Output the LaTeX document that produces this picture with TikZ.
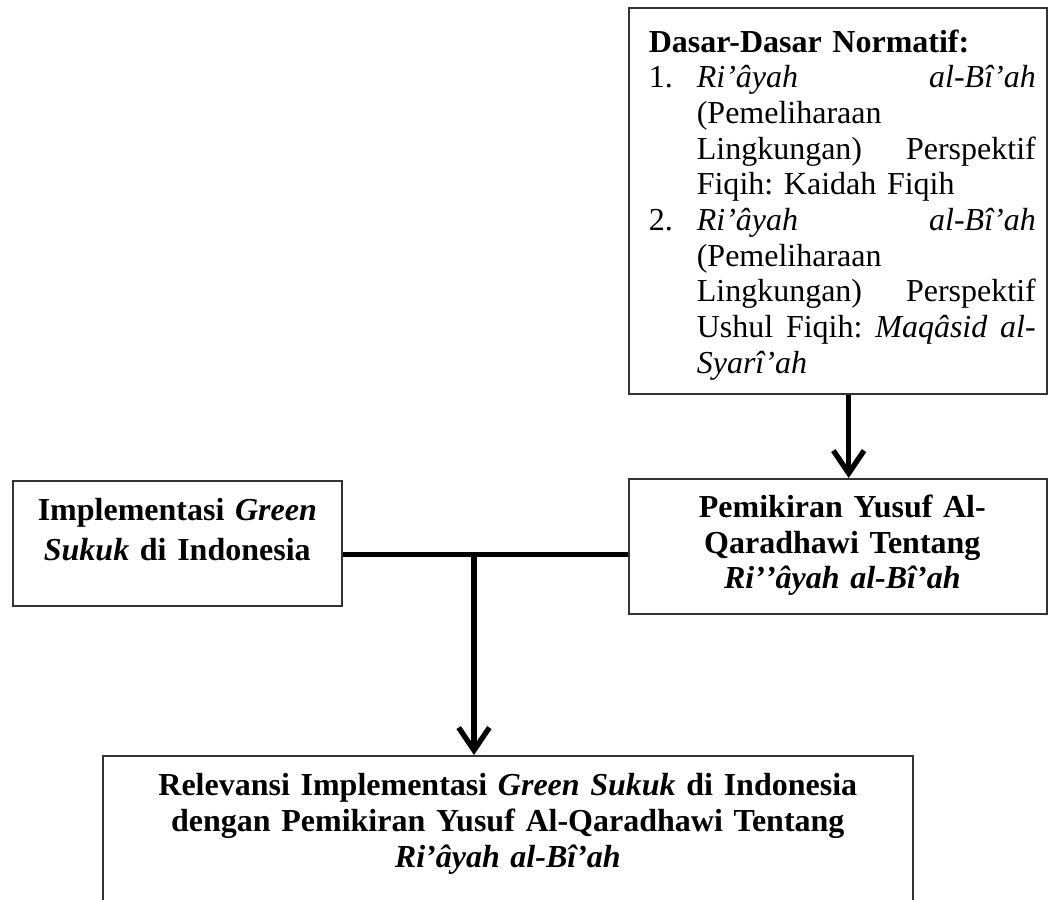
\documentclass[tikz,border=0pt]{standalone}
\usepackage{fontspec}
\setmainfont{Liberation Serif}
\usetikzlibrary{arrows.meta}
\frenchspacing
\begin{document}
\begin{tikzpicture}[x=0.375pt,y=-0.375pt,
  box/.style={draw=black!80,line width=0.6pt,inner sep=0pt,anchor=north west,fill=white},
  conn/.style={line width=2pt,black},
  arr/.style={-{Straight Barb[length=8.5pt,width=11.5pt,line width=2pt]}}]
\useasboundingbox (0,0) rectangle (1048,899);
\clip (0,0) rectangle (1048,899);
% top box
\node[box,text width=156.75pt,text height=16.6pt,text depth=128.15pt,align=left,
  font=\fontsize{12pt}{13.375pt}\selectfont\frenchspacing] (tb) at (628,7) {%
  \leftskip=7.5pt \rightskip=4.125pt plus 1fil \parfillskip=0pt plus 1fil
  \textbf{Dasar-Dasar Normatif:}\par
  \makebox[18pt][l]{1.}\textit{Ri’âyah}\hfill\textit{al-Bî’ah}\par
  \hspace*{18pt}(Pemeliharaan\par
  \hspace*{18pt}Lingkungan)\hfill Perspektif\par
  \hspace*{18pt}Fiqih: Kaidah Fiqih\par
  \makebox[18pt][l]{2.}\textit{Ri’âyah}\hfill\textit{al-Bî’ah}\par
  \hspace*{18pt}(Pemeliharaan\par
  \hspace*{18pt}Lingkungan)\hfill Perspektif\par
  \hspace*{18pt}Ushul\hfill Fiqih:\hfill\textit{Maqâsid}\hfill\textit{al-}\par
  \hspace*{18pt}\textit{Syarî’ah}\par};
% middle right box
\node[box,text width=156.75pt,text height=14.6pt,text depth=36.025pt,align=center,
  font=\fontsize{12pt}{13.35pt}\selectfont\bfseries] (mb) at (628,478) {%
  \leftskip=3.4pt plus 1fil \rightskip=0pt plus 1fil \parfillskip=0pt
  Pemikiran Yusuf Al-\par
  Qaradhawi Tentang\par
  \textit{Ri’\kern0pt’âyah al-Bî’ah}\par};
% left box
\node[box,text width=123.375pt,text height=15pt,text depth=31.875pt,align=center,
  font=\fontsize{12pt}{14.8pt}\selectfont\bfseries] (lb) at (12,480) {%
  \leftskip=0pt plus 1fil \rightskip=0pt plus 1fil \parfillskip=0pt
  Implementasi \textit{Green}\par
  \textit{Sukuk} di Indonesia\par};
% bottom box
\node[box,text width=303.75pt,text height=15pt,text depth=70pt,align=center,
  font=\fontsize{12pt}{13.5pt}\selectfont\bfseries] (bb) at (102,755) {%
  \leftskip=0pt plus 1fil \rightskip=0pt plus 1fil \parfillskip=0pt
  Relevansi Implementasi \textit{Green Sukuk} di Indonesia\par
  dengan Pemikiran Yusuf Al-Qaradhawi Tentang\par
  \textit{Ri’âyah al-Bî’ah}\par};
% connectors
\coordinate (j) at (474,554.5);
\coordinate (ta) at (848.7,0);
\draw[conn] (lb.east |- j) -- (mb.west |- j);
\draw[conn,arr] (j) -- (j |- bb.north);
\draw[conn,arr] (tb.south -| ta) -- (mb.north -| ta);
\end{tikzpicture}
\end{document}
